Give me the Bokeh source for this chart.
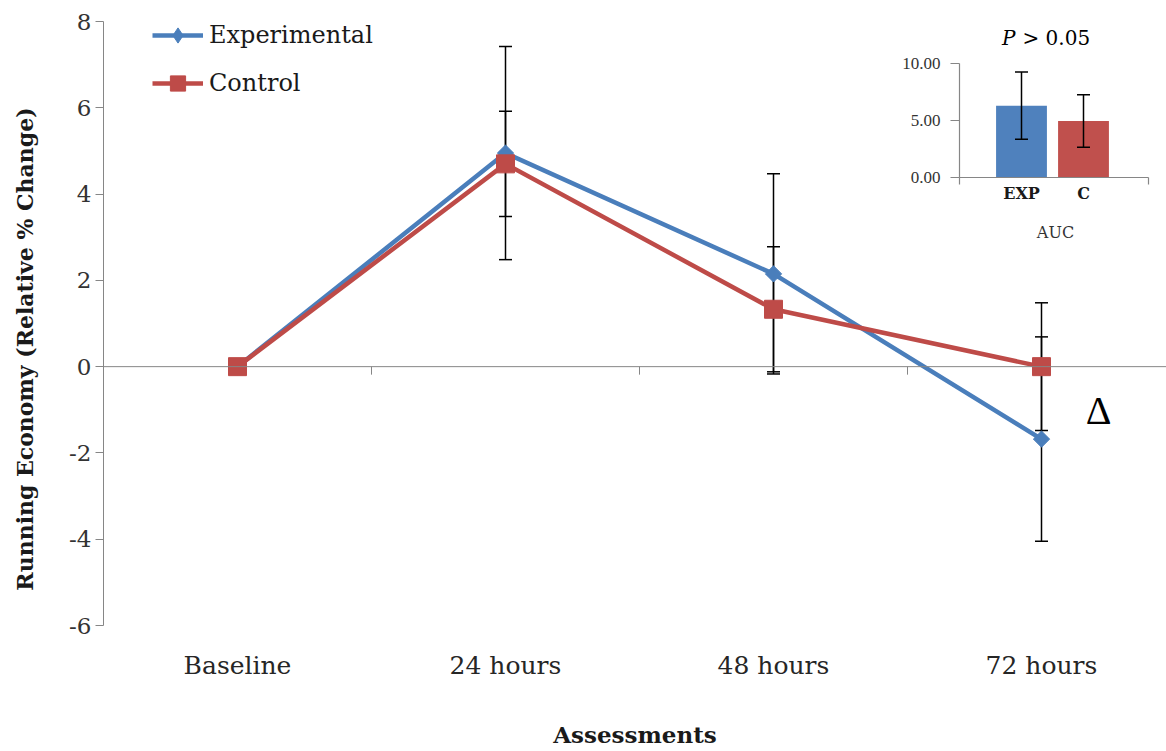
import numpy as np
from bokeh.plotting import figure
from bokeh.models import (ColumnDataSource, Range1d, Whisker, TeeHead, Span, Label,
                          Legend, LegendItem, FixedTicker, CDSView, IndexFilter)
from bokeh.core.properties import value
from bokeh.embed import file_html
from bokeh.resources import INLINE

# ---------------- data ----------------
assessments = ["Baseline", "24 hours", "48 hours", "72 hours"]
exp_mean = [0.0, 4.95, 2.15, -1.68]
exp_err = [0.0, 2.47, 2.32, 2.37]
ctl_mean = [0.0, 4.70, 1.33, 0.0]
ctl_err = [0.0, 1.22, 1.45, 1.48]
y_ticks = [-6, -4, -2, 0, 2, 4, 6, 8]
y_min, y_max = -6, 8

auc_groups = ["EXP", "C"]
auc_mean = [6.3, 4.95]
auc_err = [2.95, 2.3]
auc_ticks = [0, 5, 10]

# ---------------- layout constants ----------------
W, H = 1166, 751
FL, FT = 103, 21
AX_B = 625                    # pixel row of y = -6
FB = 676                      # frame bottom (px from top)
FH = FB - FT
FW = W - FL
CAT_PX = 268.0
Y_PX = (AX_B - FT) / (y_max - y_min)
def py(px_row):               # page row -> main data y
    return y_max - (px_row - FT) / Y_PX

FONT = "DejaVu Serif"
BLUE_L, RED_L = "#4A7EBB", "#BE4B48"
BLUE_B, RED_B = "#4F81BD", "#C0504D"
GRAY = "#868686"

# inset geometry (page px)
IX0, IXPX = 1021.0, 62.0
IY0, IYPX = 177.0, 11.4
def ix(px):
    return (px - IX0) / IXPX
def iy(prow):
    return (IY0 - prow) / IYPX

p = figure(width=W, height=H, output_backend="svg", toolbar_location=None,
           x_range=Range1d(-0.5, -0.5 + FW / CAT_PX), y_range=Range1d(py(FB), y_max),
           min_border_left=FL, min_border_top=FT, min_border_right=0,
           min_border_bottom=H - FB)
p.outline_line_color = None
p.xgrid.visible = False
p.ygrid.visible = False
p.background_fill_color = "white"

# x axis: only the title
p.xaxis.ticker = FixedTicker(ticks=[])
p.xaxis.axis_line_color = None
p.xaxis.major_tick_line_color = None
p.xaxis.minor_tick_line_color = None
p.xaxis.major_label_standoff = 0
p.xaxis.axis_label = "Assessments"
p.xaxis.axis_label_text_font = FONT
p.xaxis.axis_label_text_font_style = "bold"
p.xaxis.axis_label_text_font_size = "23px"
p.xaxis.axis_label_text_color = "#1a1a1a"
p.xaxis.axis_label_standoff = 44

# y axis
p.yaxis.bounds = (y_min, y_max)
p.yaxis.ticker = FixedTicker(ticks=y_ticks)
p.yaxis.major_label_overrides = {t: str(t) for t in y_ticks}
p.yaxis.minor_tick_line_color = None
p.yaxis.axis_line_color = GRAY
p.yaxis.major_tick_line_color = GRAY
p.yaxis.major_tick_out = 8
p.yaxis.major_tick_in = 0
p.yaxis.major_label_standoff = 4
p.yaxis.major_label_text_font = FONT
p.yaxis.major_label_text_font_size = "23px"
p.yaxis.major_label_text_color = "#333333"
p.yaxis.axis_label = "Running Economy (Relative % Change)"
p.yaxis.axis_label_text_font = FONT
p.yaxis.axis_label_text_font_style = "bold"
p.yaxis.axis_label_text_font_size = "22px"
p.yaxis.axis_label_text_color = "#1a1a1a"
p.yaxis.axis_label_standoff = 28

# category labels
xs = list(range(len(assessments)))
p.text(x=xs, y=[py(665)] * len(xs), text=assessments, text_align="center",
       text_baseline="middle", text_font=value(FONT), text_font_size="25px",
       text_color="#262626")

# zero line with category-boundary ticks
p.add_layout(Span(location=0, dimension="width", line_color=GRAY, line_width=1))
bounds = [i + 0.5 for i in range(len(assessments) - 1)]
p.segment(x0=bounds, x1=bounds, y0=[0] * len(bounds), y1=[-8 / Y_PX] * len(bounds),
          line_color=GRAY, line_width=1)

# ---------------- main series ----------------
src = ColumnDataSource(dict(x=xs, exp=exp_mean, ctl=ctl_mean))

def whisk(mean, err):
    idx = [i for i in xs if err[i] > 0]
    s = ColumnDataSource(dict(base=idx, lower=[mean[i] - err[i] for i in idx],
                              upper=[mean[i] + err[i] for i in idx]))
    return Whisker(source=s, base="base", lower="lower", upper="upper",
                   line_color="black", line_width=1.5,
                   upper_head=TeeHead(size=13, line_color="black", line_width=1.5),
                   lower_head=TeeHead(size=13, line_color="black", line_width=1.5))

p.add_layout(whisk(exp_mean, exp_err))
p.add_layout(whisk(ctl_mean, ctl_err))

l_exp = p.line("x", "exp", source=src, line_color=BLUE_L, line_width=4.5)
l_ctl = p.line("x", "ctl", source=src, line_color=RED_L, line_width=4.5)
m_exp = p.scatter("x", "exp", source=src, marker="square", angle=np.pi / 4, size=11.5,
                  fill_color=BLUE_L, line_color=BLUE_L)
# diamond used for the legend key (its only drawn point sits under the baseline square)
lg_exp = p.scatter("x", "exp", source=src, view=CDSView(filter=IndexFilter(indices=[0])),
                   marker="diamond", size=16, fill_color=BLUE_L, line_color=BLUE_L)
m_ctl = p.scatter("x", "ctl", source=src, marker="square", size=18,
                  fill_color=RED_L, line_color=RED_L)

GH = 38
legend = Legend(items=[LegendItem(label="Experimental", renderers=[l_exp, lg_exp]),
                       LegendItem(label="Control", renderers=[l_ctl, m_ctl])],
                location=(49, FH - (2 * GH + 10) + (GH // 2 - 14)), orientation="vertical",
                glyph_width=51, glyph_height=GH, label_height=28, spacing=10,
                padding=0, margin=0, label_standoff=6,
                border_line_color=None, background_fill_alpha=0,
                label_text_font=FONT, label_text_font_size="24px",
                label_text_color="#1a1a1a")
p.add_layout(legend)

p.add_layout(Label(x=(1098 - FL) / CAT_PX - 0.5, y=py(410),
                   text="\u0394", text_align="center",
                   text_baseline="alphabetic", text_font="Liberation Serif",
                   text_font_size="40px", text_color="black"))

# ---------------- inset (AUC) ----------------
p.extra_x_ranges = {"ix": Range1d(ix(FL), ix(FL + FW))}
p.extra_y_ranges = {"iy": Range1d(iy(FB), iy(FT))}
kw = dict(x_range_name="ix", y_range_name="iy")

gx = list(range(len(auc_groups)))
p.vbar(x=gx, top=auc_mean, bottom=0, width=0.82, fill_color=[BLUE_B, RED_B],
       line_color=None, **kw)
wsrc = ColumnDataSource(dict(base=gx, lower=[m - e for m, e in zip(auc_mean, auc_err)],
                             upper=[m + e for m, e in zip(auc_mean, auc_err)]))
p.add_layout(Whisker(source=wsrc, base="base", lower="lower", upper="upper",
                     line_color="black", line_width=1.5, level="annotation",
                     upper_head=TeeHead(size=13, line_color="black", line_width=1.5),
                     lower_head=TeeHead(size=13, line_color="black", line_width=1.5), **kw))

ax_x0, ax_x1 = ix(959), ix(1148)
p.segment(x0=[ax_x0, ax_x0], y0=[0, 0], x1=[ax_x0, ax_x1], y1=[auc_ticks[-1], 0],
          line_color=GRAY, line_width=1.2, **kw)
p.segment(x0=[ax_x0] * len(auc_ticks), x1=[ix(950)] * len(auc_ticks),
          y0=auc_ticks, y1=auc_ticks, line_color=GRAY, line_width=1.2, **kw)
p.segment(x0=[ax_x0, ax_x1], x1=[ax_x0, ax_x1], y0=[0, 0], y1=[iy(184), iy(184)],
          line_color=GRAY, line_width=1.2, **kw)
p.text(x=[ix(940)] * len(auc_ticks), y=auc_ticks, text=[f"{t:.2f}" for t in auc_ticks],
       text_align="right", text_baseline="middle", text_font=value("Liberation Serif"),
       text_font_size="17px", text_color="#333333", **kw)
p.text(x=gx, y=[iy(193)] * len(gx), text=auc_groups, text_align="center",
       text_baseline="middle", text_font=value(FONT), text_font_style="bold",
       text_font_size="16px", text_color="#1a1a1a", **kw)
p.add_layout(Label(x=ix(1055), y=iy(232), text="AUC", text_align="center",
                   text_baseline="middle", text_font=FONT, text_font_size="16px",
                   text_color="#333333", **kw))
p.add_layout(Label(x=ix(1015), y=iy(37), text="P", text_align="right",
                   text_baseline="middle", text_font=FONT, text_font_style="italic",
                   text_font_size="20px", text_color="black", **kw))
p.add_layout(Label(x=ix(1022), y=iy(37), text="> 0.05", text_align="left",
                   text_baseline="middle", text_font=FONT,
                   text_font_size="20px", text_color="black", **kw))

open("out.html", "w").write(file_html(p, INLINE))
